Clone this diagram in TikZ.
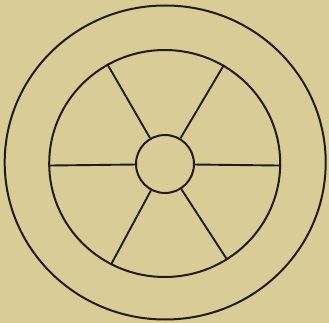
\documentclass[tikz,border=0pt]{standalone}
\usepackage{xcolor}
\definecolor{wpaper}{RGB}{217,204,150}
\definecolor{wink}{RGB}{32,28,18}
\usetikzlibrary{shapes.geometric}

\begin{document}
\begin{tikzpicture}[x=1pt, y=-1pt,
        rimline/.style={ellipse, draw=wink, line width=2pt, inner sep=0pt},
        spoke/.style={draw=wink, line width=1.9pt}
      ]
        % paper
        \fill[wpaper] (0,0) rectangle (329,323);
        \useasboundingbox (0,0) rectangle (329,323);

        % tyre and rim
        \node[rimline, minimum width=321pt, minimum height=314pt] (tyre) at (165.2,162.5) {};
        \node[rimline, minimum width=231pt, minimum height=227pt] (rim)  at (164.7,163.5) {};

        % hub
        \node[rimline, circle, minimum size=58pt] (hub) at (165,164) {};

        % spokes
        \foreach \a in {-1.1, 59.8, 120.5, 181.6, 242.6, 303.2}
          \draw[spoke] (hub.\a) -- (rim.\a);
      \end{tikzpicture}
\end{document}
